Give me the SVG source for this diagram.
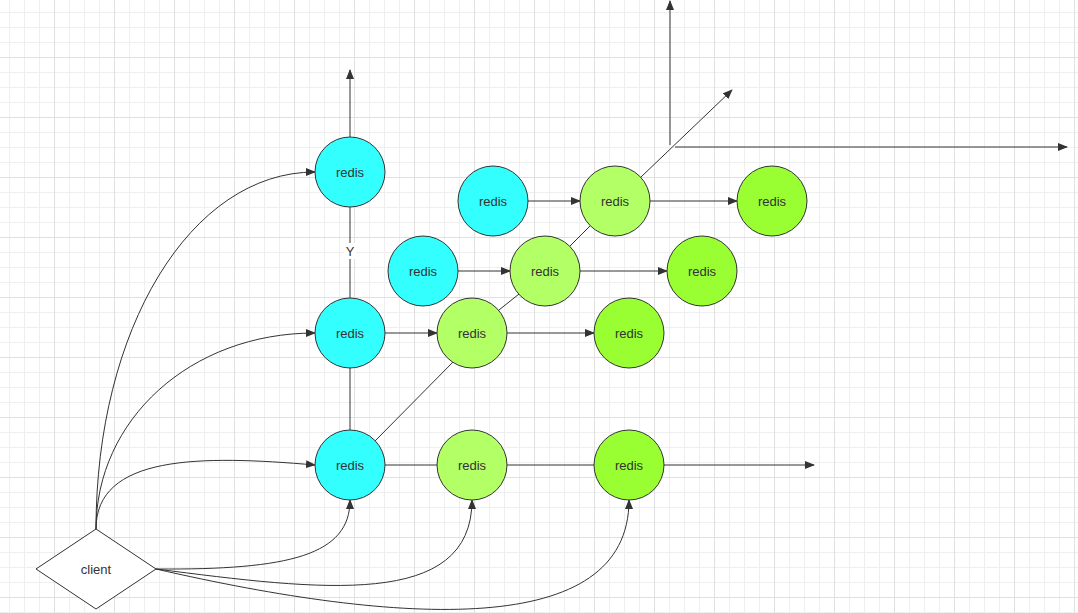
<svg xmlns="http://www.w3.org/2000/svg" width="1078" height="613" viewBox="0 0 1078 613">
<style>
.c{stroke:#333;stroke-width:1}
.cy{fill:#33FFFF}
.lg{fill:#B3FF66}
.g{fill:#99FF33}
.t{font-family:"Liberation Sans",Arial,sans-serif;font-size:13px;fill:#333;text-anchor:middle;dominant-baseline:central}
.e{fill:none;stroke:#333;stroke-width:1}
.a{marker-end:url(#arr)}
</style>
<defs>
<marker id="arr" viewBox="0 0 10 8" refX="9" refY="4" markerWidth="10" markerHeight="8" markerUnits="userSpaceOnUse" orient="auto">
<path d="M0,0 L10,4 L0,8 Z" fill="#333"/>
</marker>
<pattern id="grid" x="-6" y="-3" width="60" height="60" patternUnits="userSpaceOnUse">
<rect width="60" height="60" fill="#fff"/>
<g fill="#efefef">
<rect x="15" y="0" width="1" height="60"/><rect x="30" y="0" width="1" height="60"/><rect x="45" y="0" width="1" height="60"/>
<rect x="0" y="15" width="60" height="1"/><rect x="0" y="30" width="60" height="1"/><rect x="0" y="45" width="60" height="1"/>
</g>
<g fill="#e0e0e0">
<rect x="0" y="0" width="1" height="60"/><rect x="0" y="0" width="60" height="1"/>
</g>
</pattern>
</defs>
<rect width="1078" height="613" fill="url(#grid)"/>
<g id="connectors">
<path class="e a" d="M350,137 V70"/>
<path class="e" d="M350,207 V298"/>
<rect x="344" y="243" width="12" height="16" fill="#fff"/>
<text class="t" x="350" y="251" font-size="12">Y</text>
<path class="e" d="M350,368 V430"/>
<path class="e" d="M385,465 H437"/>
<path class="e" d="M507,465 H594"/>
<path class="e a" d="M664,465 H814"/>
<path class="e a" d="M385,333 H437"/>
<path class="e a" d="M507,333 H594"/>
<path class="e a" d="M458,271 H510"/>
<path class="e a" d="M580,271 H667"/>
<path class="e a" d="M528,201 H580"/>
<path class="e a" d="M650,201 H737"/>
<path class="e" d="M375,441 L455,360"/>
<path class="e" d="M499,310 L519,294"/>
<path class="e" d="M570,246 L590,226"/>
<path class="e a" d="M641,177 L732,90"/>
<path class="e a" d="M670,145 V1"/>
<path class="e a" d="M675,147 H1067"/>
<path class="e a" d="M96,529 C96,330 190,172 315,172"/>
<path class="e a" d="M96,529 C96,420 190,333 315,333"/>
<path class="e a" d="M96,529 C96,455 200,455 315,465"/>
<path class="e a" d="M156,569 C290,570 350,555 350,500"/>
<path class="e a" d="M156,569 C320,590 472,610 472,500"/>
<path class="e a" d="M156,569 C400,625 629,640 629,500"/>
</g>
<g id="n1"><circle class="c cy" cx="350" cy="172" r="35"/><text class="t" x="350" y="172">redis</text></g>
<g id="n2"><circle class="c cy" cx="350" cy="333" r="35"/><text class="t" x="350" y="333">redis</text></g>
<g id="n3"><circle class="c cy" cx="350" cy="465" r="35"/><text class="t" x="350" y="465">redis</text></g>
<g id="n4"><circle class="c cy" cx="493" cy="201" r="35"/><text class="t" x="493" y="201">redis</text></g>
<g id="n5"><circle class="c cy" cx="423" cy="271" r="35"/><text class="t" x="423" y="271">redis</text></g>
<g id="n6"><circle class="c lg" cx="472" cy="333" r="35"/><text class="t" x="472" y="333">redis</text></g>
<g id="n7"><circle class="c lg" cx="545" cy="271" r="35"/><text class="t" x="545" y="271">redis</text></g>
<g id="n8"><circle class="c lg" cx="615" cy="201" r="35"/><text class="t" x="615" y="201">redis</text></g>
<g id="n9"><circle class="c lg" cx="472" cy="465" r="35"/><text class="t" x="472" y="465">redis</text></g>
<g id="n10"><circle class="c g" cx="629" cy="333" r="35"/><text class="t" x="629" y="333">redis</text></g>
<g id="n11"><circle class="c g" cx="702" cy="271" r="35"/><text class="t" x="702" y="271">redis</text></g>
<g id="n12"><circle class="c g" cx="772" cy="201" r="35"/><text class="t" x="772" y="201">redis</text></g>
<g id="n13"><circle class="c g" cx="629" cy="465" r="35"/><text class="t" x="629" y="465">redis</text></g>
<g id="client"><path class="c" fill="#fff" d="M36,569 L96,529 L156,569 L96,609 Z"/><text class="t" x="96" y="569">client</text></g>
</svg>
